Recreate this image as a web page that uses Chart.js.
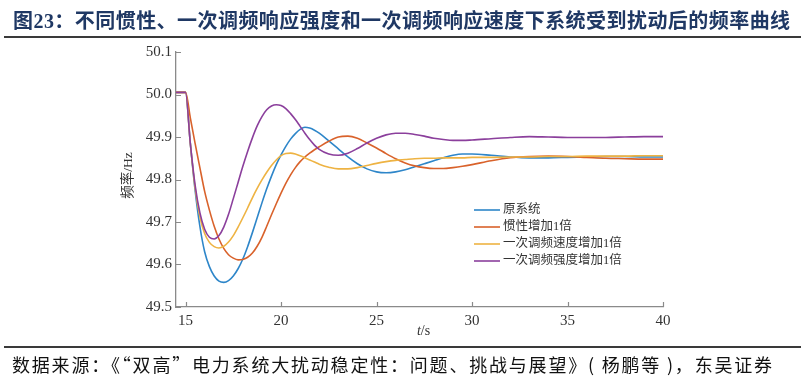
<!DOCTYPE html>
<html><head><meta charset="utf-8">
<script src="https://cdn.jsdelivr.net/npm/chart.js@4.4.1/dist/chart.umd.min.js"></script>
<style>
html,body{margin:0;padding:0;background:#fff;}
#wrap{position:relative;width:805px;height:381px;overflow:hidden;background:#fff;}
#title{position:absolute;left:13px;top:5px;font:bold 20px 'Liberation Serif','Noto Sans CJK SC';color:#1f3864;white-space:nowrap;letter-spacing:0.45px;}
.rule{position:absolute;left:4px;width:797px;height:2px;background:#3a3a3a;}
#src{position:absolute;left:12px;top:351px;font:18px 'Noto Sans CJK SC';color:#111;white-space:nowrap;letter-spacing:1.8px;}
canvas{position:absolute;left:0;top:0;}
</style></head>
<body><div id="wrap">
<canvas id="c" width="805" height="381"></canvas>
<div id="title">图23：不同惯性、一次调频响应强度和一次调频响应速度下系统受到扰动后的频率曲线</div>
<div class="rule" style="top:36px"></div>
<div class="rule" style="top:346px"></div>
<div id="src">数据来源：《“双高”电力系统大扰动稳定性：问题、挑战与展望》( 杨鹏等 )，东吴证券</div>
</div>
<script>
const times = [14.5, 15, 15.25, 15.5, 15.75, 16, 16.25, 16.5, 16.75, 17, 17.25, 17.5, 17.75, 18, 18.25, 18.5, 18.75, 19, 19.25, 19.5, 19.75, 20, 20.25, 20.5, 20.75, 21, 21.25, 21.5, 21.75, 22, 22.5, 23, 23.5, 24, 24.5, 25, 25.5, 26, 26.5, 27, 27.5, 28, 28.5, 29, 29.5, 30, 31, 32, 33, 34, 35, 36, 37, 38, 39, 40];

const seriesNames = ['原系统', '惯性增加1倍', '一次调频速度增加1倍', '一次调频强度增加1倍'];

const baseSystem = [50.005, 50.005, 49.885, 49.775, 49.69, 49.63, 49.595, 49.573, 49.561, 49.558, 49.562, 49.573, 49.59, 49.613, 49.642, 49.675, 49.71, 49.745, 49.778, 49.808, 49.835, 49.858, 49.878, 49.895, 49.908, 49.918, 49.923, 49.921, 49.916, 49.909, 49.891, 49.872, 49.853, 49.837, 49.825, 49.818, 49.816, 49.818, 49.823, 49.83, 49.837, 49.844, 49.851, 49.857, 49.86, 49.86, 49.857, 49.853, 49.851, 49.851, 49.852, 49.853, 49.854, 49.854, 49.853, 49.853];

const inertiaDoubled = [50.005, 50.005, 49.945, 49.885, 49.828, 49.772, 49.728, 49.69, 49.66, 49.638, 49.623, 49.615, 49.611, 49.612, 49.617, 49.627, 49.643, 49.664, 49.69, 49.717, 49.743, 49.768, 49.791, 49.811, 49.828, 49.842, 49.853, 49.862, 49.87, 49.877, 49.89, 49.9, 49.902, 49.897, 49.886, 49.874, 49.861, 49.849, 49.839, 49.832, 49.828, 49.826, 49.826, 49.828, 49.831, 49.835, 49.844, 49.851, 49.854, 49.855, 49.854, 49.852, 49.85, 49.849, 49.848, 49.848];

const speedDoubled = [50.005, 50.005, 49.885, 49.78, 49.712, 49.673, 49.652, 49.642, 49.639, 49.643, 49.653, 49.668, 49.688, 49.71, 49.733, 49.757, 49.779, 49.799, 49.817, 49.833, 49.846, 49.856, 49.861, 49.862, 49.86, 49.856, 49.851, 49.846, 49.841, 49.836, 49.829, 49.825, 49.825, 49.828, 49.833, 49.838, 49.842, 49.845, 49.847, 49.849, 49.85, 49.85, 49.851, 49.851, 49.851, 49.852, 49.852, 49.853, 49.853, 49.854, 49.854, 49.855, 49.855, 49.855, 49.856, 49.856];

const strengthDoubled = [50.005, 50.005, 49.885, 49.787, 49.722, 49.683, 49.664, 49.66, 49.668, 49.688, 49.718, 49.755, 49.793, 49.831, 49.866, 49.898, 49.926, 49.948, 49.964, 49.973, 49.976, 49.974, 49.967, 49.955, 49.941, 49.925, 49.909, 49.894, 49.881, 49.871, 49.86, 49.857, 49.862, 49.873, 49.886, 49.897, 49.905, 49.909, 49.909, 49.906, 49.902, 49.897, 49.894, 49.892, 49.892, 49.893, 49.896, 49.899, 49.901, 49.9, 49.899, 49.899, 49.899, 49.9, 49.901, 49.901];

const xTicks = [15, 20, 25, 30, 35, 40];
const yTicks = [49.5, 49.6, 49.7, 49.8, 49.9, 50.0, 50.1];

const colors = ['#2e86c9', '#d9622b', '#eeb343', '#8b3f9c'];
const allSeries = [baseSystem, inertiaDoubled, speedDoubled, strengthDoubled];

const axisColor = '#8a8a8a';
const serif = "'Liberation Serif', 'Noto Sans CJK SC'";

const extras = {
  id: 'extras',
  afterDraw(chart) {
    const ctx = chart.ctx;
    const ca = chart.chartArea;
    const xs = chart.scales.x, ys = chart.scales.y;
    ctx.save();
    ctx.strokeStyle = axisColor;
    ctx.lineWidth = 1.2;
    ctx.beginPath();
    yTicks.forEach(v => {
      const p = Math.round(ys.getPixelForValue(v)) + 0.5;
      ctx.moveTo(ca.left, p); ctx.lineTo(ca.left + 5, p);
    });
    xTicks.forEach(v => {
      const p = Math.round(xs.getPixelForValue(v)) + 0.5;
      ctx.moveTo(p, ca.bottom); ctx.lineTo(p, ca.bottom - 5);
    });
    ctx.stroke();
    ctx.fillStyle = '#333';
    ctx.save();
    ctx.translate(ca.left - 48, (ca.top + ca.bottom) / 2 - 4);
    ctx.rotate(-Math.PI / 2);
    ctx.font = "13.5px " + serif;
    ctx.textAlign = 'center';
    ctx.textBaseline = 'middle';
    ctx.fillText('频率/Hz', 0, 0);
    ctx.restore();
    const cx = (ca.left + ca.right) / 2 + 4;
    const ty = ca.bottom + 24;
    ctx.textBaseline = 'middle';
    ctx.textAlign = 'left';
    ctx.font = "italic 14px 'Liberation Serif'";
    const wT = ctx.measureText('t').width;
    ctx.font = "14px 'Liberation Serif'";
    const wS = ctx.measureText('/s').width;
    const x0 = cx - (wT + wS) / 2;
    ctx.font = "italic 14px 'Liberation Serif'";
    ctx.fillText('t', x0, ty);
    ctx.font = "14px 'Liberation Serif'";
    ctx.fillText('/s', x0 + wT, ty);
    const lx = 474, ly = 210, dy = 17;
    chart.data.datasets.forEach((ds, i) => {
      const y = ly + dy * i;
      ctx.strokeStyle = ds.borderColor;
      ctx.lineWidth = 1.6;
      ctx.beginPath();
      ctx.moveTo(lx, y); ctx.lineTo(lx + 26, y);
      ctx.stroke();
      ctx.fillStyle = '#333';
      ctx.font = "12.5px " + serif;
      ctx.textAlign = 'left';
      ctx.textBaseline = 'middle';
      ctx.fillText(ds.label, lx + 29, y);
    });
    ctx.restore();
  }
};

new Chart(document.getElementById('c'), {
  type: 'line',
  data: {
    datasets: allSeries.map((vals, i) => ({
      label: seriesNames[i],
      data: times.map((t, k) => ({ x: t, y: vals[k] })),
      borderColor: colors[i],
      backgroundColor: colors[i],
      borderWidth: 1.6,
      pointRadius: 0,
      fill: false,
      cubicInterpolationMode: 'monotone',
      order: 3 - i
    }))
  },
  options: {
    responsive: false,
    animation: false,
    devicePixelRatio: 1,
    layout: { padding: { left: 0, top: 52, right: 142, bottom: 44 } },
    plugins: { legend: { display: false }, tooltip: { enabled: false }, title: { display: false } },
    scales: {
      x: {
        type: 'linear', min: 14.5, max: 40,
        afterBuildTicks: s => { s.ticks = xTicks.map(v => ({ value: v })); },
        afterFit: s => { s.height = 30; },
        ticks: { font: { family: serif, size: 15 }, color: '#333', padding: 5, maxRotation: 0, autoSkip: false },
        grid: { display: false, drawTicks: false },
        border: { display: true, color: axisColor, width: 1.3 }
      },
      y: {
        type: 'linear', min: 49.5, max: 50.1,
        afterBuildTicks: s => { s.ticks = yTicks.map(v => ({ value: v })); },
        afterFit: s => { s.width = 176; },
        ticks: { font: { family: serif, size: 15 }, color: '#333', padding: 4, autoSkip: false, callback: v => Number(v).toFixed(1) },
        grid: { display: false, drawTicks: false },
        border: { display: true, color: axisColor, width: 1.3 }
      }
    }
  },
  plugins: [extras]
});
</script>
</body></html>
